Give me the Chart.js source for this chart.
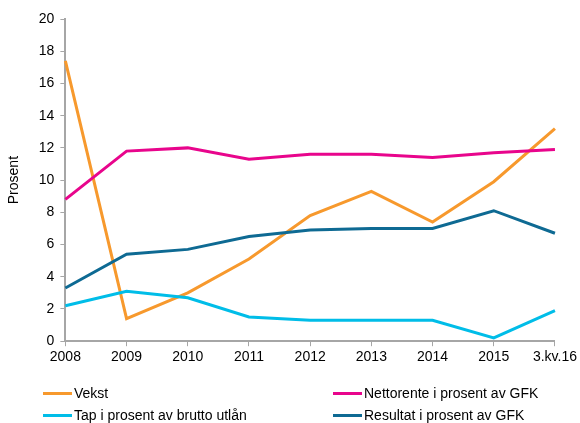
<!DOCTYPE html>
<html>
<head>
<meta charset="utf-8">
<script src="https://cdn.jsdelivr.net/npm/chart.js@4"></script>
<style>
  html, body { margin: 0; padding: 0; background: #fff; }
  #wrap { position: relative; width: 580px; height: 423px; }
  #legend { position: absolute; left: 0; top: 0; width: 580px; height: 423px; pointer-events: none;
            font-family: Arial, "Liberation Sans", sans-serif; font-size: 14px; color: #000; }
  .item { position: absolute; display: flex; align-items: center; height: 20px; white-space: nowrap; }
  .swatch { width: 29px; height: 3px; margin-right: 2px; }
</style>
</head>
<body>
<div id="wrap">
  <canvas id="chart" width="580" height="423"></canvas>
  <div id="legend"></div>
</div>
<script>
const categories = ['2008', '2009', '2010', '2011', '2012', '2013', '2014', '2015', '3.kv.16'];
const vekst = [17.4, 1.4, 3.0, 5.1, 7.8, 9.3, 7.4, 9.9, 13.2];
const nettorente = [8.8, 11.8, 12.0, 11.3, 11.6, 11.6, 11.4, 11.7, 11.9];
const tap = [2.2, 3.1, 2.7, 1.5, 1.3, 1.3, 1.3, 0.2, 1.9];
const resultat = [3.3, 5.4, 5.7, 6.5, 6.9, 7.0, 7.0, 8.1, 6.7];
const seriesNames = ['Vekst', 'Nettorente i prosent av GFK', 'Tap i prosent av brutto utlån', 'Resultat i prosent av GFK'];
const seriesColors = ['#F7992D', '#E8058C', '#00BDE8', '#0E6A93'];

const fontFamily = 'Arial, "Liberation Sans", sans-serif';
const axisGrey = '#A6A6A6';

const seriesData = [vekst, nettorente, tap, resultat];
const datasets = seriesData.map(function (values, i) {
    return {
        label: seriesNames[i],
        data: values,
        borderColor: seriesColors[i],
        backgroundColor: seriesColors[i],
        borderWidth: 3,
        pointRadius: 0,
        tension: 0,
        fill: false
    };
});

// draw Resultat/Tap behind the others like the reference
const drawOrder = [datasets[3], datasets[2], datasets[1], datasets[0]];

const ctx = document.getElementById('chart').getContext('2d');
new Chart(ctx, {
    type: 'line',
    data: { labels: categories, datasets: drawOrder },
    options: {
        responsive: false,
        animation: false,
        layout: { padding: { top: 19, right: 0, bottom: 54, left: 6 } },
        scales: {
            x: {
                offset: false,
                grid: { display: true, drawOnChartArea: false, drawTicks: true, tickLength: 5, color: axisGrey, lineWidth: 1 },
                border: { display: true, color: axisGrey, width: 2 },
                ticks: { color: '#000', font: { family: fontFamily, size: 14 }, maxRotation: 0, autoSkip: false, padding: 3 }
            },
            y: {
                min: 0,
                max: 20,
                grid: { display: true, drawOnChartArea: false, drawTicks: true, tickLength: 5, color: axisGrey, lineWidth: 1 },
                border: { display: true, color: axisGrey, width: 2 },
                ticks: { stepSize: 2, color: '#000', font: { family: fontFamily, size: 14 }, padding: 6 },
                title: { display: true, text: 'Prosent', color: '#000', font: { family: fontFamily, size: 14 }, padding: { top: 0, bottom: 10 } }
            }
        },
        plugins: {
            legend: { display: false },
            tooltip: { enabled: false }
        }
    }
});

// legend in two columns below the chart
const legendPos = [
    { x: 43, y: 383 },
    { x: 333, y: 383 },
    { x: 43, y: 405 },
    { x: 333, y: 405 }
];
const legendEl = document.getElementById('legend');
seriesNames.forEach(function (name, i) {
    const item = document.createElement('div');
    item.className = 'item';
    item.style.left = legendPos[i].x + 'px';
    item.style.top = legendPos[i].y + 'px';
    const sw = document.createElement('span');
    sw.className = 'swatch';
    sw.style.background = seriesColors[i];
    const txt = document.createElement('span');
    txt.textContent = name;
    item.appendChild(sw);
    item.appendChild(txt);
    legendEl.appendChild(item);
});
</script>
</body>
</html>
